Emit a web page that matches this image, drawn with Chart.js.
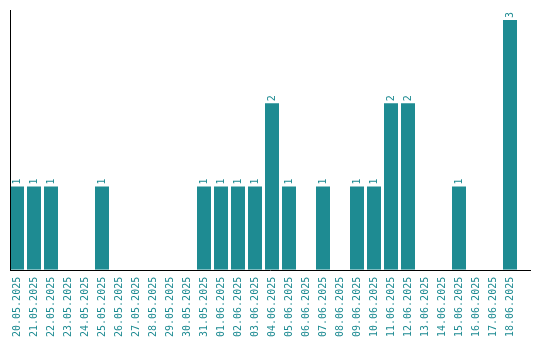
<!DOCTYPE html>
<html><head><meta charset="utf-8">
<script src="https://cdn.jsdelivr.net/npm/chart.js@4/dist/chart.umd.min.js"></script>
<style>html,body{margin:0;padding:0;background:#fff}#wrap{width:540px;height:340px;position:relative}</style>
</head><body><div id="wrap"><canvas id="c" width="540" height="340"></canvas></div>
<script>
const categories = ["20.05.2025","21.05.2025","22.05.2025","23.05.2025","24.05.2025","25.05.2025","26.05.2025","27.05.2025","28.05.2025","29.05.2025","30.05.2025","31.05.2025","01.06.2025","02.06.2025","03.06.2025","04.06.2025","05.06.2025","06.06.2025","07.06.2025","08.06.2025","09.06.2025","10.06.2025","11.06.2025","12.06.2025","13.06.2025","14.06.2025","15.06.2025","16.06.2025","17.06.2025","18.06.2025"];
const counts = [1,1,1,0,0,1,0,0,0,0,0,1,1,1,1,2,1,0,1,0,1,1,2,2,0,0,1,0,0,3];
const TEAL = '#1e8b92';
const FONT = '"DejaVu Sans Mono", "Liberation Mono", monospace';

const extras = {
  id: 'extras',
  afterDatasetsDraw(chart) {
    const ctx = chart.ctx;
    const meta = chart.getDatasetMeta(0);
    ctx.save();
    ctx.fillStyle = TEAL;
    ctx.font = '10px ' + FONT;
    ctx.textAlign = 'left';
    ctx.textBaseline = 'middle';
    meta.data.forEach((bar, i) => {
      const v = counts[i];
      if (!v) return;
      ctx.save();
      ctx.translate(bar.x, bar.y - 2);
      ctx.rotate(-Math.PI / 2);
      ctx.fillText(String(v), 0, 0);
      ctx.restore();
    });
    const y0 = chart.scales.y.getPixelForValue(0);
    const yTop = chart.chartArea.top;
    ctx.strokeStyle = '#000';
    ctx.lineWidth = 1;
    ctx.beginPath();
    ctx.moveTo(10.5, yTop);
    ctx.lineTo(10.5, Math.round(y0) + 0.5);
    ctx.moveTo(10, Math.round(y0) + 0.5);
    ctx.lineTo(531, Math.round(y0) + 0.5);
    ctx.stroke();
    ctx.restore();
  }
};

new Chart(document.getElementById('c'), {
  type: 'bar',
  data: { labels: categories, datasets: [{ data: counts, backgroundColor: TEAL, borderWidth: 0, barPercentage: 14/17, categoryPercentage: 1 }] },
  options: {
    responsive: false, animation: false, devicePixelRatio: 1,
    layout: { padding: { left: 8.5, right: 21.5, top: 10, bottom: -4 } },
    plugins: { legend: { display: false }, tooltip: { enabled: false } },
    scales: {
      x: {
        grid: { display: false, drawTicks: false }, border: { display: false },
        ticks: { color: TEAL, font: { family: FONT, size: 10 }, minRotation: 90, maxRotation: 90, padding: 7, autoSkip: false }
      },
      y: { display: false, min: 0, max: 3.12 }
    }
  },
  plugins: [extras]
});
</script></body></html>
